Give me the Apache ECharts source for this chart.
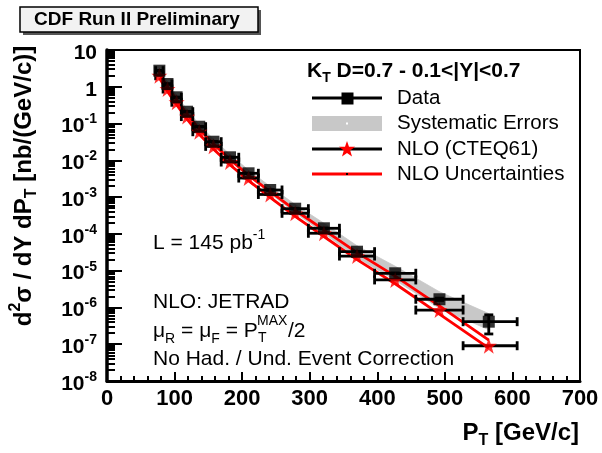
<!DOCTYPE html>
<html><head><meta charset="utf-8">
<script src="https://cdn.jsdelivr.net/npm/echarts@6/dist/echarts.min.js"></script>
<style>html,body{margin:0;padding:0;background:#fff}#c{width:602px;height:453px}</style>
</head><body><div id="c"></div>
<script>
// ---- data ----
const pt     = [77.5, 89.5, 103, 118.5, 136.5, 157.5, 182, 209.5, 241.5, 278.5, 321, 370, 426.5, 492, 565];
const ptLo   = [72, 83, 96, 110, 127, 146, 169, 195, 224, 259, 298, 344, 396, 457, 527];
const ptHi   = [83, 96, 110, 127, 146, 169, 195, 224, 259, 298, 344, 396, 457, 527, 607];
const dataY  = [2.74, 1.19, 0.518, 0.21, 0.082, 0.0321, 0.0121, 0.00444, 0.00156, 4.84e-4, 1.42e-4, 3.28e-5, 8.49e-6, 1.67e-6, 4.1e-7];
const statErr= [0.03, 0.012, 0.005, 0.002, 0.0008, 0.0003, 0.00012, 0.00004, 0.000015, 0.000005, 0.0000018, 0.0000005, 0.00000018, 0.00000012, 0.00000022];
const sysHi  = [3.07, 1.33, 0.585, 0.239, 0.0943, 0.0376, 0.01452, 0.00542, 0.00195, 6.29e-4, 1.95e-4, 4.76e-5, 1.32e-5, 2.67e-6, 6.8e-7];
const sysLo  = [2.45, 1.06, 0.458, 0.184, 0.0713, 0.0274, 0.0101, 0.00364, 0.00125, 3.72e-4, 1.04e-4, 2.26e-5, 5.48e-6, 9.5e-7, 2.48e-7];
const nloY   = [2.0, 0.87, 0.38, 0.155, 0.060, 0.024, 0.0090, 0.0033, 0.00118, 3.63e-4, 1.04e-4, 2.5e-5, 5.6e-6, 8.5e-7, 9.1e-8];
const nloHi  = [2.3, 1.0, 0.44, 0.18, 0.070, 0.028, 0.0106, 0.0039, 0.00141, 4.4e-4, 1.28e-4, 3.1e-5, 7.1e-6, 1.1e-6, 1.3e-7];
const nloLo  = [1.72, 0.75, 0.325, 0.132, 0.051, 0.0203, 0.0076, 0.0028, 0.00099, 3.0e-4, 8.5e-5, 2.0e-5, 4.4e-6, 6.6e-7, 7.8e-8];
const xTickValues = [0, 100, 200, 300, 400, 500, 600, 700];
const yMin = 1e-8, yMax = 10;
const yMinorTicks = [];
for (let k = -8; k <= 0; k++) for (let m = 2; m <= 9; m++) yMinorTicks.push(+(m * Math.pow(10, k)).toPrecision(3));

const FONT = '"Liberation Sans", Arial, Helvetica, sans-serif';
const STAR = 'M50,0 L61.8,35.1 L98.9,35.5 L69.1,57.7 L80.2,93.1 L50,71.6 L19.8,93.1 L30.9,57.7 L1.1,35.5 L38.2,35.1 Z';
function starPoints(cx, cy, R) {
  const pts = [];
  for (let k = 0; k < 10; k++) {
    const r = k % 2 === 0 ? R : R * 0.4;
    const a = -Math.PI / 2 + k * Math.PI / 5;
    pts.push([cx + r * Math.cos(a), cy + r * Math.sin(a)]);
  }
  return pts;
}

const chart = echarts.init(document.getElementById('c'), null, {renderer: 'canvas'});

function errBar(xs, ys, xl, xh, yl, yh) {
  return xs.map((x, i) => [x, ys[i], xl[i], xh[i], yl ? yl[i] : 0, yh ? yh[i] : 0]);
}
const dataErr = errBar(pt, dataY, ptLo, ptHi, dataY.map((v, i) => v - statErr[i]), dataY.map((v, i) => v + statErr[i]));
const nloErr = errBar(pt, nloY, ptLo, ptHi, null, null);
const band = pt.map((x, i) => [x, dataY[i], sysLo[i], sysHi[i]]);

function renderErr(params, api) {
  const x = api.value(0), y = api.value(1), xl = api.value(2), xh = api.value(3), yl = api.value(4), yh = api.value(5);
  const c = api.coord([x, y]), l = api.coord([xl, y]), h = api.coord([xh, y]);
  const st = {stroke: '#000', lineWidth: 2.8};
  const cap = 4.5;
  const ch = [
    {type: 'line', shape: {x1: l[0], y1: c[1], x2: h[0], y2: c[1]}, style: st},
    {type: 'line', shape: {x1: l[0], y1: c[1] - cap, x2: l[0], y2: c[1] + cap}, style: st},
    {type: 'line', shape: {x1: h[0], y1: c[1] - cap, x2: h[0], y2: c[1] + cap}, style: st}
  ];
  if (yl > 0 && yh > 0) {
    const a = api.coord([x, yh]), b = api.coord([x, yl]);
    ch.push({type: 'line', shape: {x1: c[0], y1: a[1], x2: c[0], y2: b[1]}, style: st});
    ch.push({type: 'line', shape: {x1: c[0] - cap, y1: a[1], x2: c[0] + cap, y2: a[1]}, style: st});
    ch.push({type: 'line', shape: {x1: c[0] - cap, y1: b[1], x2: c[0] + cap, y2: b[1]}, style: st});
  }
  return {type: 'group', children: ch};
}
function renderBand(params, api) {
  const i = params.dataIndex;
  if (i >= band.length - 1) return null;
  const p = band[i], q = band[i + 1];
  const pts = [api.coord([p[0], p[3]]), api.coord([q[0], q[3]]), api.coord([q[0], q[2]]), api.coord([p[0], p[2]])];
  return {type: 'polygon', shape: {points: pts}, style: {fill: '#c8c8c8', stroke: '#c8c8c8', lineWidth: 0.8}};
}

function richSet(size, bold) {
  const w = bold ? 'bold' : 'normal';
  return {
    sup: {fontSize: size, fontWeight: w, fontFamily: FONT, color: '#000', verticalAlign: 'top', lineHeight: size + 1},
    sub: {fontSize: size, fontWeight: w, fontFamily: FONT, color: '#000', verticalAlign: 'bottom', lineHeight: size + 1}
  };
}

const option = {
  animation: false,
  backgroundColor: '#fff',
  grid: {left: 107, top: 50, width: 473, height: 331, show: true, borderColor: '#000', borderWidth: 2, backgroundColor: 'transparent'},
  xAxis: {
    type: 'value', min: 0, max: 700, interval: 100,
    axisLine: {show: true, onZero: false, lineStyle: {color: '#000', width: 3}},
    axisTick: {inside: true, length: 9, lineStyle: {color: '#000', width: 2}},
    minorTick: {show: true, splitNumber: 5, length: 5, lineStyle: {color: '#000', width: 2}},
    splitLine: {show: false},
    axisLabel: {color: '#000', fontFamily: FONT, fontWeight: 'bold', fontSize: 22, margin: 7,
      customValues: xTickValues}
  },
  yAxis: [{
    type: 'log', logBase: 10, min: yMin, max: yMax,
    axisLine: {show: true, onZero: false, lineStyle: {color: '#000', width: 3.5}},
    axisTick: {inside: true, length: 15, lineStyle: {color: '#000', width: 2}},
    splitLine: {show: false},
    axisLabel: {
      color: '#000', fontFamily: FONT, fontWeight: 'bold', fontSize: 21, margin: 10, lineHeight: 28,
      padding: [6, 0, 0, 0],
      formatter: function (v) {
        const e = Math.round(Math.log10(v));
        if (e === 1) return '10';
        if (e === 0) return '1';
        return '10{sup|' + e + '}';
      },
      rich: richSet(14, true)
    }
  }, {
    type: 'log', logBase: 10, min: yMin, max: yMax, position: 'left',
    axisLine: {show: false},
    axisTick: {inside: true, length: 8, lineStyle: {color: '#000', width: 2}, customValues: yMinorTicks},
    axisLabel: {show: false},
    splitLine: {show: false}
  }],
  series: [
    {type: 'custom', name: 'Systematic Errors', renderItem: renderBand, data: band, encode: {x: 0, y: [2, 3]}, z: 1, silent: true},
    {type: 'line', name: 'NLO Uncertainties', data: pt.map((x, i) => [x, nloHi[i]]), symbol: 'none', lineStyle: {color: '#ff0000', width: 2.8}, z: 2},
    {type: 'line', name: 'NLO Uncertainties low', data: pt.map((x, i) => [x, nloLo[i]]), symbol: 'none', lineStyle: {color: '#ff0000', width: 2.8}, z: 2},
    {type: 'custom', name: 'NLO errors', renderItem: renderErr, data: nloErr, encode: {x: [0, 2, 3], y: 1}, z: 3},
    {type: 'custom', name: 'Data errors', renderItem: renderErr, data: dataErr, encode: {x: [0, 2, 3], y: [1, 4, 5]}, z: 3},
    {type: 'scatter', name: 'NLO (CTEQ61)', data: pt.map((x, i) => [x, nloY[i]]), symbol: 'path://' + STAR, symbolSize: 16, itemStyle: {color: '#ff0000'}, z: 4},
    {type: 'scatter', name: 'Data', data: pt.map((x, i) => [x, dataY[i]]), symbol: 'rect', symbolSize: 12, itemStyle: {color: '#000'}, z: 5}
  ],
  graphic: [
    // title box
    {type: 'rect', shape: {x: 23, y: 10, width: 238, height: 25}, style: {fill: '#555'}, z: 10},
    {type: 'rect', shape: {x: 20, y: 7, width: 238, height: 25}, style: {fill: '#f2f2f2', stroke: '#000', lineWidth: 1.5}, z: 11},
    {type: 'text', x: 137, y: 20, z: 12, style: {text: 'CDF Run II Preliminary', font: 'bold 19px ' + FONT, fill: '#000', align: 'center', verticalAlign: 'middle'}},
    // y-axis title
    {type: 'text', x: 24, y: 186, rotation: Math.PI / 2, z: 12,
      style: {text: 'd{sup|2}σ / dY dP{sub|T} [nb/(GeV/c)]', font: 'bold 24px ' + FONT, fill: '#000', align: 'center', verticalAlign: 'middle', lineHeight: 32, rich: richSet(16, true)}},
    // x-axis title
    {type: 'text', x: 579, y: 433, z: 12,
      style: {text: 'P{sub|T} [GeV/c]', font: 'bold 24px ' + FONT, fill: '#000', align: 'right', verticalAlign: 'middle', lineHeight: 32, rich: richSet(16, true)}},
    // legend
    {type: 'text', x: 307, y: 71, z: 12,
      style: {text: 'K{sub|T} D=0.7 - 0.1<|Y|<0.7', font: 'bold 21px ' + FONT, fill: '#000', align: 'left', verticalAlign: 'middle', lineHeight: 28, rich: richSet(14, true)}},
    {type: 'line', shape: {x1: 312, y1: 98, x2: 382, y2: 98}, style: {stroke: '#000', lineWidth: 2.8}, z: 12},
    {type: 'rect', shape: {x: 341.5, y: 92.5, width: 12, height: 12}, style: {fill: '#000'}, z: 12},
    {type: 'text', x: 397, y: 98, z: 12, style: {text: 'Data', font: '20.5px ' + FONT, fill: '#000', verticalAlign: 'middle'}},
    {type: 'rect', shape: {x: 312, y: 116, width: 70, height: 15}, style: {fill: '#c8c8c8'}, z: 12},
    {type: 'rect', shape: {x: 346, y: 122.5, width: 2, height: 2}, style: {fill: '#fff'}, z: 13},
    {type: 'text', x: 397, y: 123, z: 12, style: {text: 'Systematic Errors', font: '20.5px ' + FONT, fill: '#000', verticalAlign: 'middle'}},
    {type: 'line', shape: {x1: 312, y1: 149, x2: 382, y2: 149}, style: {stroke: '#000', lineWidth: 2.8}, z: 12},
    {type: 'polygon', shape: {points: starPoints(347, 149.5, 8.5)}, style: {fill: '#ff0000'}, z: 13},
    {type: 'text', x: 397, y: 149, z: 12, style: {text: 'NLO (CTEQ61)', font: '20.5px ' + FONT, fill: '#000', verticalAlign: 'middle'}},
    {type: 'line', shape: {x1: 312, y1: 174, x2: 382, y2: 174}, style: {stroke: '#ff0000', lineWidth: 3}, z: 12},
    {type: 'rect', shape: {x: 346, y: 173, width: 2, height: 2}, style: {fill: '#000'}, z: 13},
    {type: 'text', x: 397, y: 174, z: 12, style: {text: 'NLO Uncertainties', font: '20.5px ' + FONT, fill: '#000', verticalAlign: 'middle'}},
    // annotations
    {type: 'text', x: 153, y: 243, z: 12,
      style: {text: 'L = 145 pb{sup|-1}', font: '21px ' + FONT, fill: '#000', verticalAlign: 'middle', lineHeight: 30, rich: richSet(14, false)}},
    {type: 'text', x: 153, y: 302, z: 12, style: {text: 'NLO: JETRAD', font: '21px ' + FONT, fill: '#000', verticalAlign: 'middle'}},
    {type: 'text', x: 153, y: 331, z: 12,
      style: {text: 'μ{sub|R} = μ{sub|F} = P', font: '21px ' + FONT, fill: '#000', verticalAlign: 'middle', lineHeight: 30, rich: richSet(14, false)}},
    {type: 'text', x: 257, y: 321, z: 12, style: {text: 'MAX', font: '14px ' + FONT, fill: '#000', verticalAlign: 'middle'}},
    {type: 'text', x: 258, y: 338, z: 12, style: {text: 'T', font: '14px ' + FONT, fill: '#000', verticalAlign: 'middle'}},
    {type: 'text', x: 288, y: 331, z: 12, style: {text: '/2', font: '21px ' + FONT, fill: '#000', verticalAlign: 'middle'}},
    {type: 'text', x: 153, y: 359, z: 12, style: {text: 'No Had. / Und. Event Correction', font: '21px ' + FONT, fill: '#000', verticalAlign: 'middle'}}
  ]
};
chart.setOption(option);
</script>
</body></html>
